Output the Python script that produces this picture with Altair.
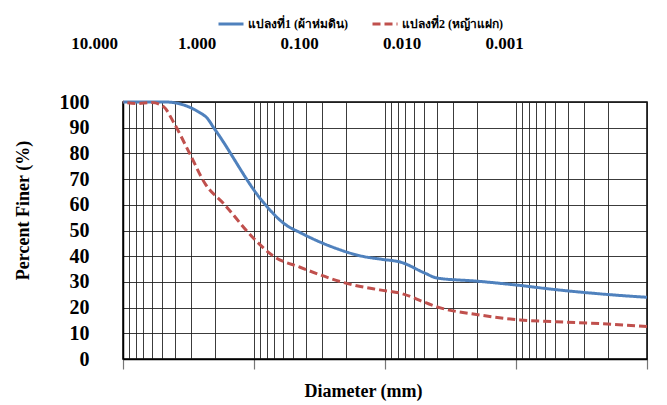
import altair as alt
import pandas as pd

series_names = ["แปลงที่1 (ผ้าห่มดิน)", "แปลงที่2 (หญ้าแฝก)"]

blue_d = [10, 4.75, 2.36, 2.0, 0.85, 0.6, 0.425, 0.25, 0.15, 0.106, 0.075, 0.05, 0.04, 0.02, 0.01, 0.005, 0.002, 0.001]
blue_v = [100, 100, 94.5, 89.5, 61, 53, 48.7, 43.5, 40, 38.8, 37.6, 33.5, 31.5, 30.3, 28.8, 27, 25.1, 24]

red_d = [10, 7.9, 6.0, 4.9, 4.1, 3.1, 2.36, 1.7, 1.0, 0.71, 0.445, 0.175, 0.11, 0.075, 0.05, 0.039, 0.02, 0.0093, 0.005, 0.002, 0.001]
red_v = [100, 99.4, 99.8, 98.2, 92, 80, 68.2, 60.4, 46.8, 40, 35.7, 28.8, 26.9, 25.5, 22.1, 20.1, 17.3, 15.2, 14.5, 13.6, 12.6]

decades = [10, 1, 0.1, 0.01, 0.001]
grid_values = [10, 9, 8, 7, 6, 5, 4, 3, 2, 1,
               0.9, 0.8, 0.7, 0.6, 0.5, 0.4, 0.3, 0.2, 0.1,
               0.09, 0.08, 0.07, 0.06, 0.05, 0.04, 0.03, 0.02, 0.01,
               0.009, 0.008, 0.007, 0.006, 0.005, 0.004, 0.003, 0.002, 0.001]
y_values = [0, 10, 20, 30, 40, 50, 60, 70, 80, 90, 100]

rows = []
for d, v in zip(blue_d, blue_v):
    rows.append({"d": d, "v": v, "s": series_names[0]})
for d, v in zip(red_d, red_v):
    rows.append({"d": d, "v": v, "s": series_names[1]})
df = pd.DataFrame(rows)

FONT = "Liberation Serif"
GRID = "#1a1a1a"

decade_test = "abs(log(datum.value)/LN10 - round(log(datum.value)/LN10)) < 0.001"

y_axis = alt.Axis(values=y_values, tickCount=11, grid=True, gridColor=GRID, gridOpacity=0.85,
                  gridWidth=1, domainColor="black", domainWidth=1.5, ticks=False,
                  labelPadding=34, labelFont=FONT, labelFontWeight="bold",
                  labelFontSize=20, labelColor="black", labelOverlap=False,
                  title="Percent Finer (%)", titleFont=FONT, titleFontWeight="bold",
                  titleFontSize=18, titleColor="black", titleX=-91, titleY=108)
y_scale = alt.Scale(domain=[0, 100], nice=False)

lines = alt.Chart(df).mark_line(strokeWidth=3, interpolate="monotone").encode(
    x=alt.X("d:Q",
            scale=alt.Scale(type="log", domain=[0.001, 10], reverse=True, nice=False),
            axis=alt.Axis(orient="bottom", values=grid_values, grid=True, gridColor=GRID,
                          gridOpacity=0.85, gridWidth=1, labels=False, tickSize=10,
                          tickColor="#777", tickWidth=1.2,
                          tickOpacity={"condition": {"test": decade_test, "value": 1}, "value": 0},
                          domainColor="black", domainWidth=1.5,
                          title="Diameter (mm)", titleFont=FONT, titleFontWeight="bold",
                          titleFontSize=18, titleColor="black", titlePadding=13, titleX=240)),
    y=alt.Y("v:Q", scale=y_scale, axis=y_axis),
    color=alt.Color("s:N", scale=alt.Scale(domain=series_names, range=["#4F81BD", "#C0504D"]),
                    legend=alt.Legend(orient="none", legendX=94, legendY=-92, direction="horizontal",
                                      title=None, symbolType="stroke", symbolStrokeWidth=3,
                                      symbolSize=625, labelFont=FONT, labelFontWeight="bold",
                                      labelFontSize=12, labelColor="black", columnPadding=18,
                                      labelOffset=3, labelLimit=0)),
    strokeDash=alt.StrokeDash("s:N", scale=alt.Scale(domain=series_names, range=[[1, 0], [8, 4]]),
                              legend=alt.Legend(orient="none", legendX=94, legendY=-92,
                                                direction="horizontal", title=None)),
    order="d:Q",
)

top_axis = alt.Chart(df).mark_point(opacity=0).encode(
    x=alt.X("d:Q",
            scale=alt.Scale(type="log", domain=[0.001, 10], range=[381, -29], nice=False),
            axis=alt.Axis(orient="top", values=decades, format=".3f", domain=False, ticks=False,
                          grid=False, labelPadding=50, labelFlush=False, labelOverlap=False,
                          labelFont=FONT, labelFontWeight="bold",
                          labelFontSize=17, labelColor="black", title=None)),
    y=alt.Y("v:Q", scale=y_scale, axis=y_axis),
)

chart = alt.layer(lines, top_axis).resolve_scale(x="independent").resolve_axis(x="independent").properties(
    width=524, height=257,
    autosize=alt.AutoSizeParams(type="none"),
    padding={"left": 115, "top": 94, "right": 12, "bottom": 44},
).configure_view(stroke="black", strokeWidth=1.5)

chart.save("out.html", embed_options={"renderer": "svg", "actions": False})
